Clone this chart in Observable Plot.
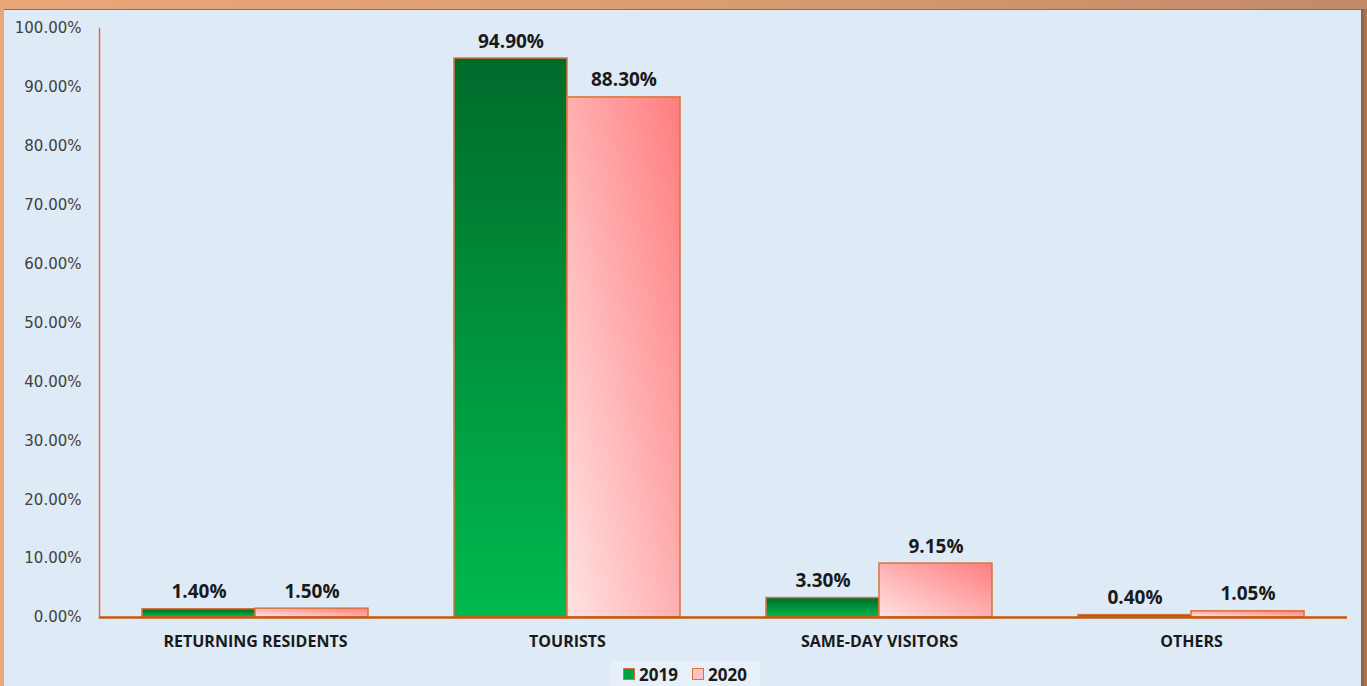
<!DOCTYPE html>
<html><head><meta charset="utf-8">
<script src="https://cdn.jsdelivr.net/npm/d3@7"></script>
<script src="https://cdn.jsdelivr.net/npm/@observablehq/plot@0.6"></script>
<style>
html,body{margin:0;padding:0;}
body{width:1367px;height:686px;overflow:hidden;position:relative;background:linear-gradient(90deg,#E9A878,#D99B70 55%,#C28A68);}
#panel{position:absolute;left:4px;top:9px;width:1357px;height:677px;background:#DEEAF6;border-top:1px solid #9A6A3C;box-sizing:border-box;}
#rb{position:absolute;left:1361px;top:9px;width:6px;height:677px;background:linear-gradient(90deg,#8E5F3A,#B07A5A);}
#chart{position:absolute;left:0;top:0;}
#legend{position:absolute;left:606px;top:651px;width:150px;height:26px;background:#E7EFF8;display:flex;align-items:center;justify-content:center;gap:14px;font-family:"Open Sans",sans-serif;font-weight:bold;font-size:17px;color:#1a1a1a;}
.it{display:flex;align-items:center;gap:4px;}
.sw{width:10px;height:10px;border:1.5px solid #D9733A;}
</style>
</head><body>
<div id="panel"><div id="chart"></div>
<div id="legend"></div></div>
<div id="rb"></div>
<script>
const categories = ["RETURNING RESIDENTS", "TOURISTS", "SAME-DAY VISITORS", "OTHERS"];
const years = ["2019", "2020"];
const values2019 = [1.40, 94.90, 3.30, 0.40];
const values2020 = [1.50, 88.30, 9.15, 1.05];
const yTicks = [0, 10, 20, 30, 40, 50, 60, 70, 80, 90, 100];
const seriesColors = {"2019": "url(#gGreen)", "2020": "url(#gPink)"};
const legendColors = {"2019": "#00A040", "2020": "#FFC2C2"};

const data = [];
categories.forEach((c, i) => {
  data.push({cat: c, year: "2019", value: values2019[i]});
  data.push({cat: c, year: "2020", value: values2020[i]});
});

const plot = Plot.plot({
  width: 1357,
  height: 650,
  marginLeft: 94,
  marginRight: 14,
  marginTop: 18,
  marginBottom: 43,
  style: {background: "transparent", overflow: "visible"},
  fx: {domain: categories, padding: 0, label: null},
  x: {domain: years, paddingInner: 0, paddingOuter: 0.375, axis: null},
  y: {domain: [0, 100], axis: null},
  marks: [
    Plot.axisY({ticks: yTicks, tickSize: 0, tickPadding: 18, tickFormat: d => d.toFixed(2) + "%",
      fontFamily: "DejaVu Sans", fontSize: 15, fill: "#404040", label: null}),
    Plot.frame({anchor: "left", facet: "super", stroke: "#D9733A", strokeWidth: 1.5}),
    Plot.axisFx({anchor: "bottom", tickSize: 0, tickPadding: 18, fontFamily: "Open Sans", fontWeight: "bold", fontSize: 16, fill: "#1a1a1a", label: null}),
    Plot.barY(data, {fx: "cat", x: "year", y: "value", fill: d => seriesColors[d.year], stroke: "#D9733A", strokeWidth: 1.5}),
    Plot.ruleY([0], {stroke: "#C55A11", strokeWidth: 2.5}),
    Plot.text(data, {fx: "cat", x: "year", y: "value", text: d => d.value.toFixed(2) + "%", lineAnchor: "bottom", dy: -11,
      fontFamily: "Open Sans", fontWeight: "bold", fontSize: 19, fill: "#1a1a1a"})
  ]
});
d3.select(plot).insert("defs", ":first-child").html(`
  <linearGradient id="gGreen" x1="0" y1="0" x2="0" y2="1">
    <stop offset="0" stop-color="#006B2B"/><stop offset="1" stop-color="#00BA4E"/>
  </linearGradient>
  <linearGradient id="gPink" x1="0" y1="1" x2="1" y2="0">
    <stop offset="0" stop-color="#FFE2E2"/><stop offset="1" stop-color="#FF7D7F"/>
  </linearGradient>`);
document.getElementById("chart").appendChild(plot);

const lg = document.getElementById("legend");
years.forEach(y => {
  const it = document.createElement("div"); it.className = "it";
  const sw = document.createElement("div"); sw.className = "sw"; sw.style.background = legendColors[y];
  const t = document.createElement("span"); t.textContent = y;
  it.appendChild(sw); it.appendChild(t); lg.appendChild(it);
});
</script>
</body></html>
